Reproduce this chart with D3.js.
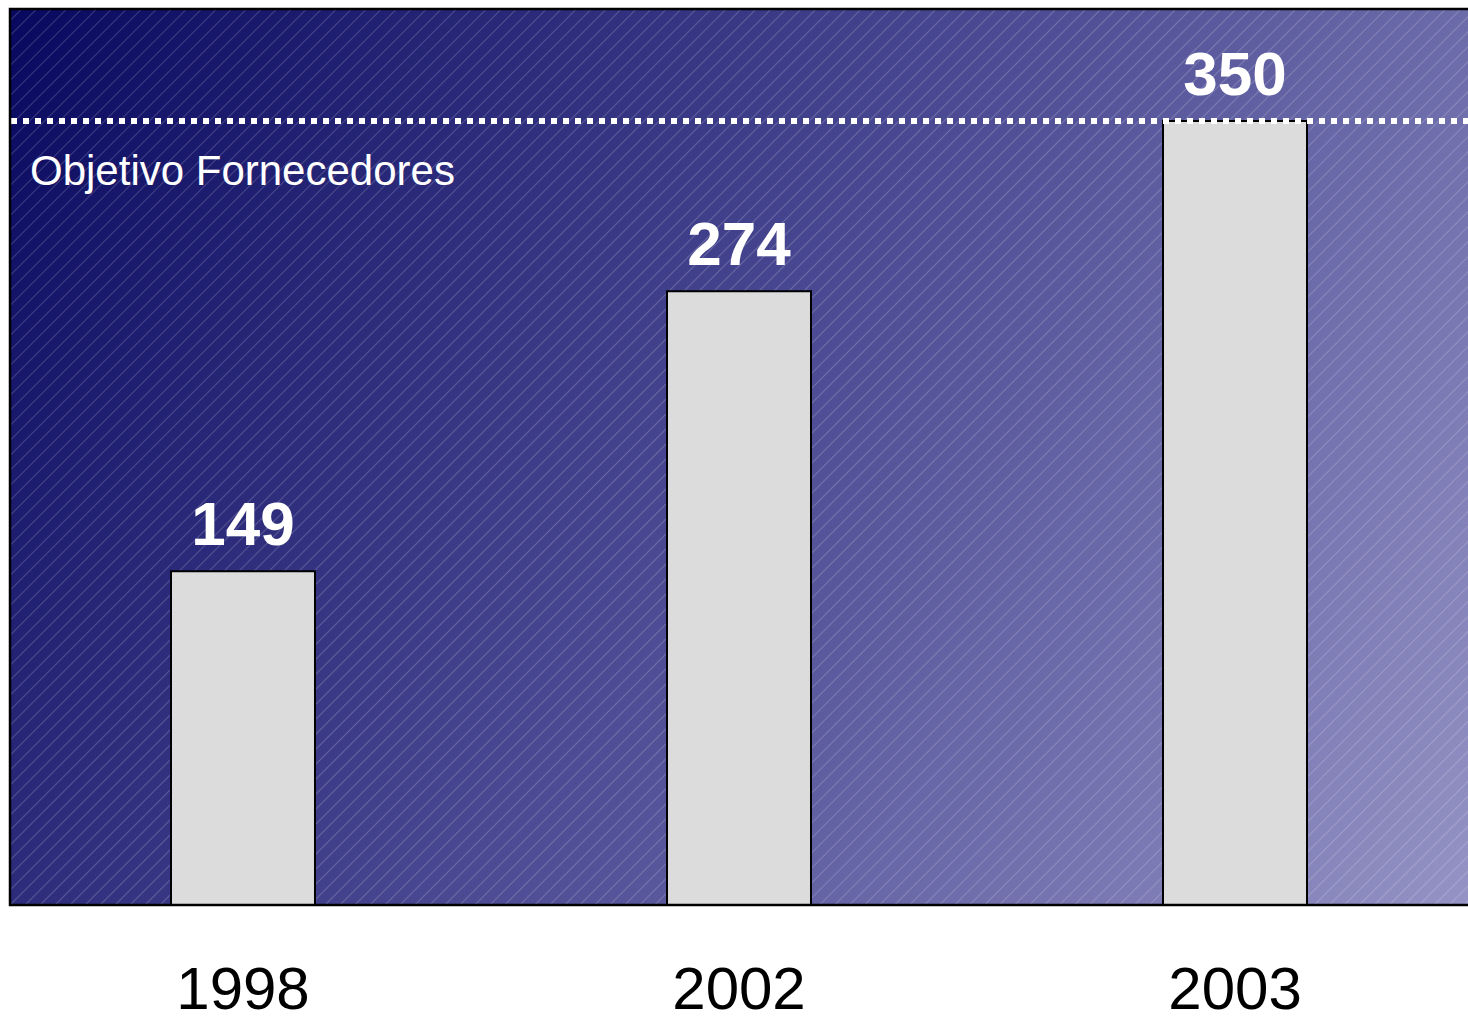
<!DOCTYPE html>
<html>
<head>
<meta charset="utf-8">
<script src="https://cdn.jsdelivr.net/npm/d3@7"></script>
<style>
  html, body { margin: 0; padding: 0; background: #ffffff; }
  svg { display: block; }
</style>
</head>
<body>
<svg id="chart" width="1468" height="1024"></svg>
<script>
// ---- data ----
const categories = ["1998", "2002", "2003"];
const values = [149, 274, 350];
const targetValue = 350;
const targetLabel = "Objetivo Fornecedores";
const yMax = 400;

// ---- layout ----
const W = 1468, H = 1024;
const plot = { left: 10, right: 1468, top: 9, bottom: 905 };
const font = "Liberation Sans, Arial, Helvetica, sans-serif";

const svg = d3.select("#chart");
const defs = svg.append("defs");

const grad = defs.append("linearGradient")
  .attr("id", "bg")
  .attr("gradientUnits", "userSpaceOnUse")
  .attr("x1", plot.left).attr("y1", plot.top)
  .attr("x2", plot.right).attr("y2", plot.bottom);
grad.append("stop").attr("offset", "0%").attr("stop-color", "#08085f");
grad.append("stop").attr("offset", "50%").attr("stop-color", "#4b4a93");
grad.append("stop").attr("offset", "100%").attr("stop-color", "#9493c5");

const pat = defs.append("pattern")
  .attr("id", "hatch")
  .attr("patternUnits", "userSpaceOnUse")
  .attr("width", 10.6).attr("height", 10.6)
  .attr("patternTransform", "rotate(45)");
pat.append("line")
  .attr("x1", 0.5).attr("y1", 0).attr("x2", 0.5).attr("y2", 10.6)
  .attr("stroke", "#ffffff").attr("stroke-opacity", 0.2).attr("stroke-width", 1);

const x = d3.scaleBand()
  .domain(categories)
  .range([plot.left, plot.right])
  .paddingInner(0.7097)
  .paddingOuter(0.3246);

const y = d3.scaleLinear().domain([0, yMax]).range([plot.bottom, plot.top]);

// background
svg.append("rect")
  .attr("x", plot.left).attr("y", plot.top)
  .attr("width", plot.right - plot.left + 5).attr("height", plot.bottom - plot.top)
  .attr("fill", "url(#bg)");
svg.append("rect")
  .attr("x", plot.left).attr("y", plot.top)
  .attr("width", plot.right - plot.left + 5).attr("height", plot.bottom - plot.top)
  .attr("fill", "url(#hatch)");

// bars
const data = categories.map((c, i) => ({ c, v: values[i] }));
svg.append("g").selectAll("rect").data(data).join("rect")
  .attr("x", d => x(d.c))
  .attr("y", d => y(d.v))
  .attr("width", x.bandwidth())
  .attr("height", d => y(0) - y(d.v))
  .attr("fill", "#dcdcdc")
  .attr("stroke", "#000000")
  .attr("stroke-width", 2);

// target line
svg.append("line")
  .attr("x1", plot.left + 1).attr("x2", plot.right + 5)
  .attr("y1", y(targetValue)).attr("y2", y(targetValue))
  .attr("stroke", "#ffffff").attr("stroke-width", 6)
  .attr("stroke-dasharray", "6,6");

svg.append("text")
  .attr("x", 30).attr("y", y(targetValue) + 64)
  .attr("font-family", font).attr("font-size", 42)
  .attr("fill", "#ffffff")
  .text(targetLabel);

// value labels
svg.append("g").selectAll("text").data(data).join("text")
  .attr("x", d => x(d.c) + x.bandwidth() / 2)
  .attr("y", d => y(d.v) - 26)
  .attr("text-anchor", "middle")
  .attr("font-family", font).attr("font-size", 62).attr("font-weight", "bold")
  .attr("fill", "#ffffff")
  .text(d => d.v);

// frame (left, top, bottom)
svg.append("path")
  .attr("d", `M${plot.right + 5},${plot.top}H${plot.left}V${plot.bottom}H${plot.right + 5}`)
  .attr("fill", "none").attr("stroke", "#000000").attr("stroke-width", 2.5);

// x axis labels
const xAxis = d3.axisBottom(x).tickSize(0).tickPadding(0);
const gx = svg.append("g")
  .attr("transform", `translate(0,${plot.bottom})`)
  .call(xAxis);
gx.select(".domain").remove();
gx.selectAll("text")
  .attr("dy", null)
  .attr("y", 104)
  .attr("font-family", font).attr("font-size", 60)
  .attr("fill", "#000000");
</script>
</body>
</html>
